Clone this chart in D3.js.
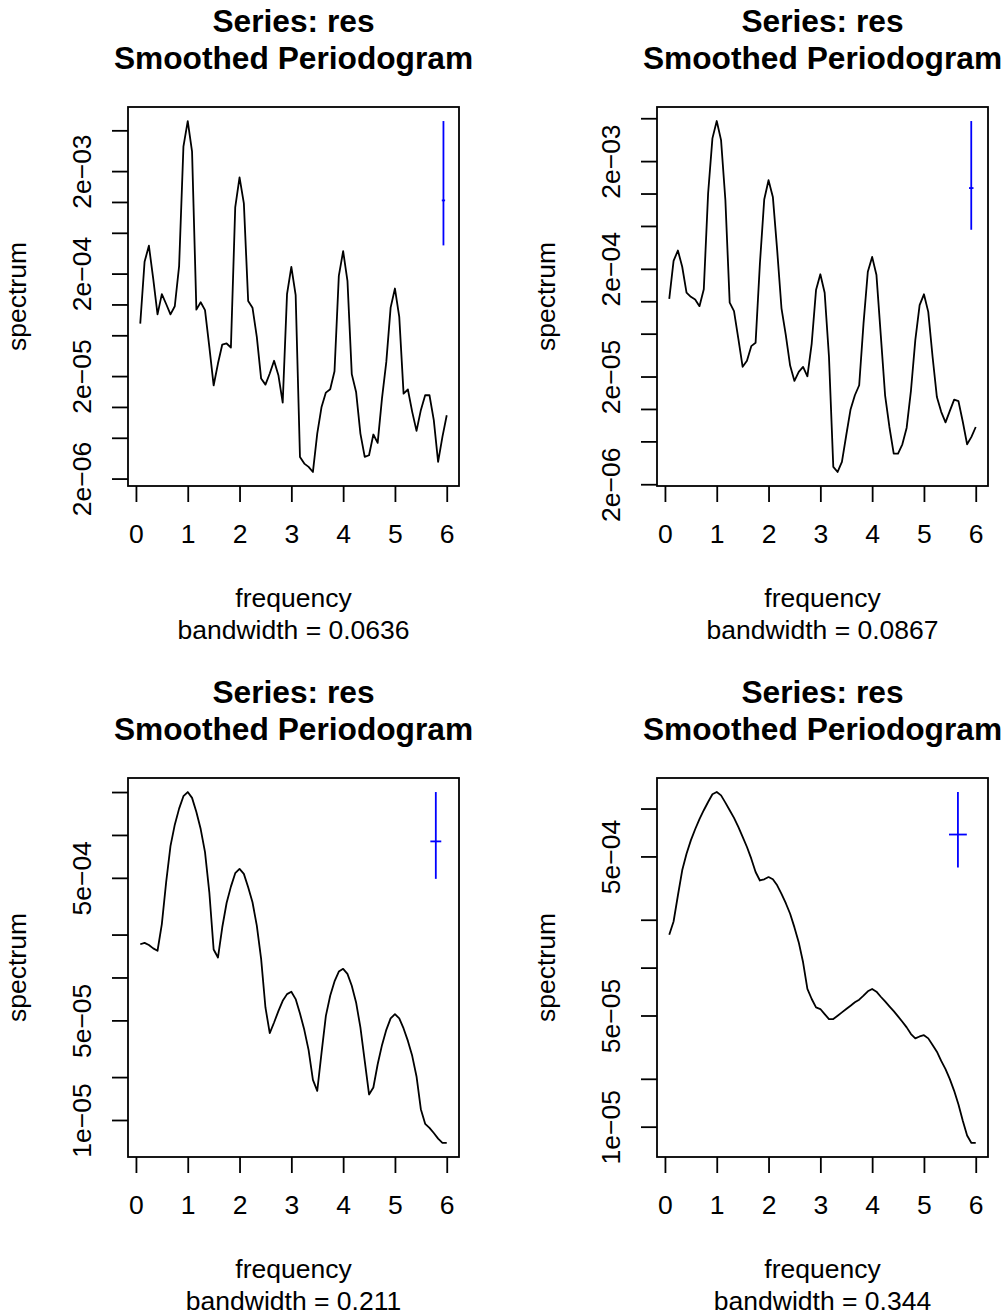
<!DOCTYPE html>
<html>
<head>
<meta charset="utf-8">
<script src="https://cdn.jsdelivr.net/npm/d3@7"></script>
<style>
  body { margin: 0; background: #fff; }
  svg text { font-family: "Liberation Sans", Arial, Helvetica, sans-serif; fill: #000; }
</style>
</head>
<body>
<svg id="chart" width="1006" height="1316"></svg>
<script>
// Fourier frequencies of a monthly series of length 144 (cycles per year)
const frequency = d3.range(1, 73).map(k => k / 12);

// Smoothed spectrum estimates, one array per smoothing span
const spec1 = [
  6.5e-5, 2.61e-4, 3.74e-4, 1.79e-4, 8.0e-5, 1.26e-4, 1.01e-4, 8.0e-5, 9.6e-5, 2.37e-4,
  3.46e-3, 6.16e-3, 3.09e-3, 8.9e-5, 1.05e-4, 8.8e-5, 3.86e-5, 1.62e-5, 2.65e-5, 4.06e-5,
  4.16e-5, 3.80e-5, 8.85e-4, 1.74e-3, 9.68e-4, 1.08e-4, 9.3e-5, 4.83e-5, 1.89e-5, 1.65e-5,
  2.12e-5, 2.82e-5, 2.04e-5, 1.10e-5, 1.26e-4, 2.33e-4, 1.23e-4, 3.25e-6, 2.80e-6, 2.60e-6,
  2.32e-6, 5.5e-6, 1.0e-5, 1.38e-5, 1.49e-5, 2.23e-5, 1.90e-4, 3.31e-4, 1.70e-4, 2.09e-5,
  1.40e-5, 5.5e-6, 3.25e-6, 3.38e-6, 5.38e-6, 4.46e-6, 1.21e-5, 2.75e-5, 9.3e-5, 1.43e-4,
  7.57e-5, 1.35e-5, 1.48e-5, 8.95e-6, 5.84e-6, 9.3e-6, 1.30e-5, 1.30e-5, 7.42e-6, 2.91e-6,
  5.1e-6, 8.3e-6
];
const spec2 = [
  1.05e-4, 2.37e-4, 2.96e-4, 2.09e-4, 1.20e-4, 1.10e-4, 1.04e-4, 9.0e-5, 1.29e-4, 1.00e-3,
  3.25e-3, 4.71e-3, 3.13e-3, 8.7e-4, 9.7e-5, 8.1e-5, 4.5e-5, 2.46e-5, 2.80e-5, 3.83e-5,
  4.11e-5, 2.24e-4, 8.8e-4, 1.33e-3, 9.3e-4, 2.98e-4, 8.6e-5, 4.84e-5, 2.53e-5, 1.82e-5,
  2.21e-5, 2.46e-5, 2.01e-5, 4.05e-5, 1.27e-4, 1.78e-4, 1.20e-4, 3.05e-5, 2.90e-6, 2.60e-6,
  3.22e-6, 5.7e-6, 9.9e-6, 1.34e-5, 1.66e-5, 6.2e-5, 1.88e-4, 2.58e-4, 1.75e-4, 4.84e-5,
  1.34e-5, 6.8e-6, 3.85e-6, 3.85e-6, 4.7e-6, 6.7e-6, 1.49e-5, 4.35e-5, 9.2e-5, 1.16e-4,
  7.97e-5, 3.05e-5, 1.29e-5, 9.4e-6, 7.5e-6, 9.6e-6, 1.22e-5, 1.18e-5, 7.6e-6, 4.7e-6,
  5.5e-6, 6.8e-6
];
const spec3 = [
  1.71e-4, 1.75e-4, 1.69e-4, 1.60e-4, 1.54e-4, 2.37e-4, 4.66e-4, 8.34e-4, 1.18e-3, 1.53e-3,
  1.87e-3, 2.0e-3, 1.82e-3, 1.45e-3, 1.10e-3, 7.57e-4, 3.96e-4, 1.57e-4, 1.38e-4, 2.25e-4,
  3.33e-4, 4.34e-4, 5.39e-4, 5.78e-4, 5.33e-4, 4.30e-4, 3.37e-4, 2.31e-4, 1.35e-4, 6.16e-5,
  4.07e-5, 4.83e-5, 5.81e-5, 6.86e-5, 7.64e-5, 7.94e-5, 7.05e-5, 5.59e-5, 4.29e-5, 3.09e-5,
  1.91e-5, 1.60e-5, 2.97e-5, 5.38e-5, 7.44e-5, 9.38e-5, 1.10e-4, 1.15e-4, 1.06e-4, 8.75e-5,
  6.68e-5, 4.46e-5, 2.60e-5, 1.51e-5, 1.69e-5, 2.46e-5, 3.35e-5, 4.29e-5, 5.16e-5, 5.53e-5,
  5.16e-5, 4.39e-5, 3.59e-5, 2.82e-5, 2.02e-5, 1.19e-5, 9.4e-6, 8.8e-6, 8.1e-6, 7.4e-6,
  6.9e-6, 6.9e-6
];
const spec4 = [
  1.61e-4, 1.95e-4, 2.84e-4, 4.09e-4, 5.20e-4, 6.31e-4, 7.41e-4, 8.57e-4, 9.76e-4, 1.10e-3,
  1.23e-3, 1.27e-3, 1.21e-3, 1.09e-3, 9.76e-4, 8.73e-4, 7.66e-4, 6.63e-4, 5.73e-4, 4.84e-4,
  3.99e-4, 3.53e-4, 3.59e-4, 3.71e-4, 3.59e-4, 3.29e-4, 2.91e-4, 2.54e-4, 2.18e-4, 1.79e-4,
  1.44e-4, 1.08e-4, 7.34e-5, 6.35e-5, 5.62e-5, 5.49e-5, 5.10e-5, 4.75e-5, 4.75e-5, 4.98e-5,
  5.23e-5, 5.49e-5, 5.76e-5, 6.05e-5, 6.29e-5, 6.66e-5, 7.10e-5, 7.34e-5, 7.06e-5, 6.56e-5,
  6.13e-5, 5.71e-5, 5.33e-5, 4.94e-5, 4.57e-5, 4.21e-5, 3.82e-5, 3.59e-5, 3.69e-5, 3.76e-5,
  3.59e-5, 3.26e-5, 2.96e-5, 2.59e-5, 2.30e-5, 1.99e-5, 1.68e-5, 1.38e-5, 1.09e-5, 8.8e-6,
  7.9e-6, 7.9e-6
];

// Bandwidth of each estimate and the 95% interval multipliers (upper / lower)
const bandwidths = [0.0636, 0.0867, 0.211, 0.344];
const ciUpper = [5.95, 4.19, 2.22, 1.85];
const ciLower = [0.364, 0.41, 0.546, 0.62];

// Axis ticks and labels
const xTicks = [0, 1, 2, 3, 4, 5, 6];
const yTicksWide = [2e-6, 5e-6, 1e-5, 2e-5, 5e-5, 1e-4, 2e-4, 5e-4, 1e-3, 2e-3, 5e-3];
const yLabelsWide = { 2e-6: "2e\u221206", 2e-5: "2e\u221205", 2e-4: "2e\u221204", 2e-3: "2e\u221203" };
const yTicksSmooth3 = [1e-5, 2e-5, 5e-5, 1e-4, 2e-4, 5e-4, 1e-3, 2e-3];
const yTicksSmooth4 = [1e-5, 2e-5, 5e-5, 1e-4, 2e-4, 5e-4, 1e-3];
const yLabelsSmooth = { 1e-5: "1e\u221205", 5e-5: "5e\u221205", 5e-4: "5e\u221204" };

const titleLines = ["Series: res", "Smoothed Periodogram"];
const xTitle = "frequency";
const yTitle = "spectrum";

// ---- layout ----
const W = 331, H = 379;
const panels = [
  { spec: spec1, ticks: yTicksWide, labels: yLabelsWide, left: 128, top: 107 },
  { spec: spec2, ticks: yTicksWide, labels: yLabelsWide, left: 657, top: 107 },
  { spec: spec3, ticks: yTicksSmooth3, labels: yLabelsSmooth, left: 128, top: 778 },
  { spec: spec4, ticks: yTicksSmooth4, labels: yLabelsSmooth, left: 657, top: 778 }
];

const svg = d3.select("#chart");
const lw = 1.8;
const fs = 26.5, fsTitle = 31.7;

// 4% padding of the data range, on a log scale for the y axis
function padLinear([a, b]) { const d = (b - a) * 0.04; return [a - d, b + d]; }
function padLog([a, b]) {
  const la = Math.log10(a), lb = Math.log10(b), d = (lb - la) * 0.04;
  return [Math.pow(10, la - d), Math.pow(10, lb + d)];
}

panels.forEach((p, i) => {
  const g = svg.append("g").attr("transform", `translate(${p.left},${p.top})`);
  const x = d3.scaleLinear().domain(padLinear(d3.extent(frequency))).range([0, W]);
  const y = d3.scaleLog().domain(padLog(d3.extent(p.spec))).range([H, 0]);

  // spectrum curve
  const line = d3.line().x((d, k) => x(frequency[k])).y(d => y(d));
  g.append("path").datum(p.spec)
    .attr("d", line).attr("fill", "none")
    .attr("stroke", "#000").attr("stroke-width", lw).attr("stroke-linejoin", "round");

  // confidence interval bar and bandwidth cross
  const bw = bandwidths[i];
  const cx = d3.max(frequency) - bw;
  const cy = d3.max(p.spec) / ciUpper[i];
  g.append("line")
    .attr("x1", x(cx)).attr("x2", x(cx))
    .attr("y1", y(cy * ciLower[i])).attr("y2", y(cy * ciUpper[i]))
    .attr("stroke", "#0000ff").attr("stroke-width", lw);
  g.append("line")
    .attr("x1", x(cx - bw / 2)).attr("x2", x(cx + bw / 2))
    .attr("y1", y(cy)).attr("y2", y(cy))
    .attr("stroke", "#0000ff").attr("stroke-width", lw);

  // x axis
  const xa = g.append("g").attr("transform", `translate(0,${H})`)
    .call(d3.axisBottom(x).tickValues(xTicks).tickFormat(d3.format("d")).tickSize(16).tickSizeOuter(0));
  xa.select(".domain").remove();
  xa.selectAll("line").attr("stroke", "#000").attr("stroke-width", lw);
  xa.selectAll("text").attr("y", 57).attr("dy", 0)
    .attr("font-size", fs).attr("font-family", null);

  // y axis (log), labels parallel to the axis
  const ya = g.append("g")
    .call(d3.axisLeft(y).tickValues(p.ticks).tickFormat(v => p.labels[v] || "").tickSize(16).tickSizeOuter(0));
  ya.select(".domain").remove();
  ya.selectAll("line").attr("stroke", "#000").attr("stroke-width", lw);
  ya.selectAll("text")
    .attr("x", 0).attr("dy", 0)
    .attr("transform", "translate(-37,0) rotate(-90)")
    .attr("text-anchor", "middle")
    .attr("font-size", fs).attr("font-family", null);

  // plot box
  g.append("rect").attr("x", 0).attr("y", 0).attr("width", W).attr("height", H)
    .attr("fill", "none").attr("stroke", "#000").attr("stroke-width", lw);

  // titles
  titleLines.forEach((t, j) => {
    g.append("text").attr("x", W / 2).attr("y", -75 + j * 37)
      .attr("text-anchor", "middle").attr("font-size", fsTitle).attr("font-weight", "bold")
      .text(t);
  });
  g.append("text").attr("x", W / 2).attr("y", H + 121)
    .attr("text-anchor", "middle").attr("font-size", fs).text(xTitle);
  g.append("text").attr("x", W / 2).attr("y", H + 153)
    .attr("text-anchor", "middle").attr("font-size", fs).text(`bandwidth = ${bw}`);
  g.append("text").attr("transform", `translate(-102,${H / 2}) rotate(-90)`)
    .attr("text-anchor", "middle").attr("font-size", fs).text(yTitle);
});
</script>
</body>
</html>
